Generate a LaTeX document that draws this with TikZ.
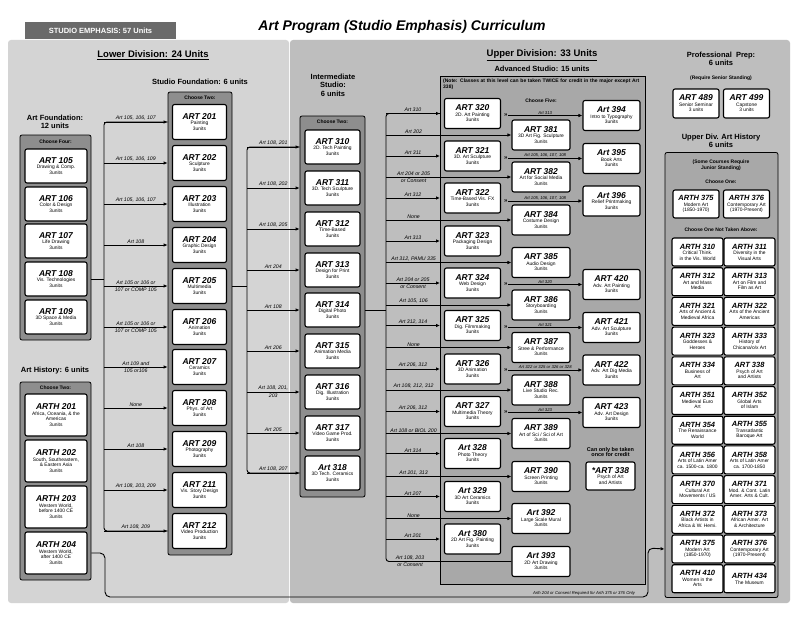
\documentclass[tikz,border=0pt]{standalone}
\usepackage{fontspec}
\setmainfont{Liberation Sans}
\usepackage{tikz}
\usetikzlibrary{positioning,arrows.meta}
\definecolor{lowgray}{HTML}{D4D4D4}
\definecolor{upgray}{HTML}{BEBEBE}
\definecolor{advgray}{HTML}{A8A8A8}
\definecolor{grpgray}{HTML}{8E8E8E}
\definecolor{tabgray}{HTML}{6A6A6A}
\newcommand{\ct}[1]{{\fontsize{8.5}{9}\selectfont\bfseries\itshape #1}\\}
\newcommand{\hct}[1]{{\fontsize{7.5}{8}\selectfont\bfseries\itshape #1}\\}
\tikzset{
	course/.style={draw=black, line width=1.1pt, fill=white, rounded corners=2pt, align=center, inner sep=0.5pt, font=\fontsize{4.9}{5.5}\selectfont},
	group/.style={draw=black, line width=0.8pt, fill=grpgray, rounded corners=2pt},
	line/.style={line width=0.9pt},
	flow/.style={line width=0.9pt, -{Latex[length=4pt,width=3.5pt]}},
	lbl/.style={font=\fontsize{5.2}{5.6}\selectfont\itshape, inner sep=1pt},
	small/.style={font=\fontsize{4.2}{4.6}\selectfont\itshape, inner sep=0.8pt},
	head/.style={font=\fontsize{5}{5.5}\selectfont\bfseries, inner sep=0pt},
	sect/.style={font=\fontsize{7.5}{8.5}\selectfont\bfseries, align=center}
}
\begin{document}
\begin{tikzpicture}[x=1pt,y=-1pt]
	\useasboundingbox (0,0) rectangle (800,618);
	\fill[white] (0,0) rectangle (800,618);
	% panels
	\fill[lowgray, rounded corners=3pt] (8,40) rectangle (289,603);
	\fill[upgray, rounded corners=3pt] (290,40) rectangle (790,603);
	\fill[advgray, rounded corners=2pt] (440,76) rectangle (645,584);
	\draw[line width=0.6pt] (440,76) rectangle (645,584);
	\node[fill=tabgray, text=white, font=\fontsize{7.5}{8}\selectfont\bfseries, minimum width=151, minimum height=17, inner sep=0pt] (tab) at (100.5,31) {STUDIO EMPHASIS: 57 Units};
	\node[font=\fontsize{14}{15}\selectfont\bfseries\itshape] (title) at (402,27) {Art Program (Studio Emphasis) Curriculum};
	\node[font=\fontsize{9.5}{10}\selectfont\bfseries] (lowdiv) at (153,55) {\underline{Lower Division: 24 Units}};
	\node[font=\fontsize{9.5}{10}\selectfont\bfseries] (updiv) at (542,55) {\underline{Upper Division: 33 Units}};

	% Art Foundation
	\node[sect] (lfound) at (55,122) {Art Foundation:\\12 units};
	\node[group, minimum width=71, minimum height=205] (gFour) at (55.5,237.5) {};
	\node[head] at (55.5,142) {Choose Four:};
	\foreach \n/\t/\y in {105/{Drawing \& Comp.}/166, 106/{Color \& Design}/204, 107/{Life Drawing}/241, 108/{Vis. Technologies}/279, 109/{3D Space \& Media}/317}
		\node[course, minimum width=62, minimum height=34] (a\n) at (56,\y) {\ct{ART \n}\t\\3units};

	% Art History
	\node[sect] (lhist) at (55,371) {Art History: 6 units};
	\node[group, minimum width=71, minimum height=198] (gHist) at (55.5,481) {};
	\node[head] at (55.5,388) {Choose Two:};
	\foreach \n/\t/\y in {201/{Africa, Oceania, \& the\\Americas}/415, 202/{South, Southeastern,\\\& Eastern Asia}/461, 203/{Western World,\\before 1400 CE}/507, 204/{Western World,\\after 1400 CE}/553}
		\node[course, minimum width=62, minimum height=42] (h\n) at (56,\y) {\ct{ARTH \n}\t\\3units};

	% Studio Foundation
	\node[sect] (lsf) at (200,82) {Studio Foundation: 6 units};
	\node[group, minimum width=64, minimum height=463] (gSF) at (200,323.5) {};
	\node[head] at (200,98) {Choose Two:};
	\foreach \n/\t/\y in {201/Painting/122, 202/Sculpture/163, 203/Illustration/204, 204/{Graphic Design}/245, 205/Multimedia/286, 206/Animation/327, 207/Ceramics/367, 208/{Phys. of Art}/408, 209/Photography/449, 211/{Vis. Story Design}/490, 212/{Video Production}/531}
		\node[course, minimum width=54, minimum height=35] (a\n) at (199.5,\y) {\ct{ART \n}\t\\3units};

	\coordinate (tA) at (104,0);
	\draw[line] (a108.east -| gFour.east) -- (tA |- a108);
	\draw[line, rounded corners=3pt] (a201 -| gSF.west) -- (tA |- a201) -- (tA |- a212) -- (a212 -| gSF.west);
	\foreach \n/\a/\b in {201/{Art 105, 106, 107}/{}, 202/{Art 105, 106, 109}/{}, 203/{Art 105, 106, 107}/{}, 204/{Art 108}/{}, 205/{Art 105 or 106 or}/{107 or COMP 105}, 206/{Art 105 or 106 or}/{107 or COMP 105}, 207/{Art 109 and}/{105 or106}, 208/{None}/{}, 209/{Art 108}/{}, 211/{Art 108, 203, 209}/{}, 212/{Art 108, 209}/{}}
		\draw[flow] (tA |- a\n) -- node[lbl, above] {\a} node[lbl, below] {\b} (a\n -| gSF.west);

	% Intermediate Studio
	\node[sect] (lint) at (333,85) {Intermediate\\Studio:\\6 units};
	\node[group, minimum width=65, minimum height=381] (gInt) at (332.5,306.5) {};
	\node[head] at (332.5,122) {Choose Two:};
	\foreach \n/\t/\y in {310/{2D. Tech Painting}/147, 311/{3D. Tech Sculpture}/188, 312/{Time-Based}/229, 313/{Design for Print}/270, 314/{Digital Photo}/310, 315/{Animation Media}/351, 316/{Dig. Illustration}/392, 317/{Video Game Prod.}/433}
		\node[course, minimum width=55, minimum height=34] (a\n) at (332.5,\y) {\ct{ART \n}\t\\3units};
	\node[course, minimum width=55, minimum height=34] (a318) at (332.5,473) {\ct{Art 318}3D Tech. Ceramics\\3units};

	\coordinate (tB) at (247,0);
	\draw[line] (a205.east -| gSF.east) -- (tB |- a205);
	\draw[line, rounded corners=3pt] (a310 -| gInt.west) -- (tB |- a310) -- (tB |- a318) -- (a318 -| gInt.west);
	\foreach \n/\a/\b in {310/{Art 108, 201}/{}, 311/{Art 108, 202}/{}, 312/{Art 108, 205}/{}, 313/{Art 204}/{}, 314/{Art 108}/{}, 315/{Art 206}/{}, 316/{Art 108, 201,}/{203}, 317/{Art 205}/{}, 318/{Art 108, 207}/{}}
		\draw[flow] (tB |- a\n) -- node[lbl, above] {\a} node[lbl, below] {\b} (a\n -| gInt.west);

	% Advanced Studio
	\node[sect] (ladv) at (542,69) {Advanced Studio: 15 units};
	\node[font=\fontsize{5}{6}\selectfont\bfseries, align=left, text width=200, inner sep=0pt, anchor=north west] (note) at (443,79) {(Note: Classes at this level can be taken TWICE for credit in the major except Art 338)};
	\node[head] at (541,101) {Choose Five:};
	\foreach \n/\t/\y in {320/{2D. Art Painting}/113.5, 321/{3D. Art Sculpture}/156, 322/{Time-Based Vis. FX}/198, 323/{Packaging Design}/241, 324/{Web Design}/283, 325/{Dig. Filmmaking}/325.5, 326/{3D Animation}/369, 327/{Multimedia Theory}/411.5}
		\node[course, minimum width=56, minimum height=30] (a\n) at (472.5,\y) {\ct{ART \n}\t\\3units};
	\foreach \n/\t/\y in {328/{Photo Theory}/453.5, 329/{3D Art Ceramics}/496.5, 380/{2D Art Fig. Painting}/539}
		\node[course, minimum width=56, minimum height=30] (a\n) at (472.5,\y) {\ct{Art \n}\t\\3units};
	\foreach \n/\t/\y in {381/{3D Art Fig. Sculpture}/135, 382/{Art for Social Media}/177, 384/{Costume Design}/220, 385/{Audio Design}/262.5, 386/{Storyboarding}/305, 387/{Stree \& Performance}/347.5, 388/{Live Studio Rec.}/390, 389/{Art of Sci / Sci of Art}/433.5, 390/{Screen Printing}/476.5}
		\node[course, minimum width=58, minimum height=30] (a\n) at (541,\y) {\ct{ART \n}\t\\3units};
	\foreach \n/\t/\y in {392/{Large Scale Mural}/518.5, 393/{2D Art Drawing}/561.5}
		\node[course, minimum width=58, minimum height=30] (a\n) at (541,\y) {\ct{Art \n}\t\\3units};
	\foreach \n/\t/\y in {394/{Intro to Typography}/115.5, 395/{Book Arts}/158.5, 396/{Relief Printmaking}/201}
		\node[course, minimum width=57, minimum height=30] (a\n) at (611.5,\y) {\ct{Art \n}\t\\3units};
	\foreach \n/\t/\y in {420/{Adv. Art Painting}/284.5, 421/{Adv. Art Sculpture}/327.5, 422/{Adv. Art Dig Media}/370, 423/{Adv. Art Design}/412.5}
		\node[course, minimum width=57, minimum height=30] (a\n) at (611.5,\y) {\ct{ART \n}\t\\3units};
	\node[font=\fontsize{5.5}{5.8}\selectfont\bfseries, align=center] (once) at (610.5,452) {Can only be taken\\once for credit};
	\node[course, minimum width=49, minimum height=28] (a338) at (610.5,476) {\ct{*ART 338}Psych of Art\\and Artists};

	\coordinate (tC) at (386,0);
	\coordinate (pL) at (440,0);
	\draw[line] (a314.east -| gInt.east) -- (tC |- a314);
	\draw[line, rounded corners=3pt] (a320 -| pL) -- (tC |- a320) -- (tC |- a393) -- (a393.west);
	\foreach \n/\a/\b in {320/{Art 310}/{}, 321/{Art 311}/{}, 322/{Art 312}/{}, 323/{Art 313}/{}, 324/{Art 204 or 205}/{or Consent}, 325/{Art 312, 314}/{}, 326/{Art 206, 312}/{}, 327/{Art 206, 312}/{}, 328/{Art 314}/{}, 329/{Art 207}/{}, 380/{Art 201}/{}}
		\draw[flow] (tC |- a\n) -- node[lbl, above] {\a} node[lbl, below] {\b} (a\n -| pL);
	\foreach \n/\a/\b in {381/{Art 202}/{}, 382/{Art 204 or 205}/{or Consent}, 384/{None}/{}, 385/{Art 312, PAMU 335}/{}, 386/{Art 105, 106}/{}, 387/{None}/{}, 388/{Art 108, 212, 312}/{}, 389/{Art 108 or BIOL 200}/{}, 390/{Art 201, 313}/{}, 392/{None}/{}}
		\draw[flow] (tC |- a\n) -- node[lbl, above, pos=0.22] {\a} node[lbl, below, pos=0.22] {\b} (a\n.west);
	\node[lbl, above] at (410,561.5) {Art 108, 203};
	\node[lbl, below] at (410,561.5) {or Consent};

	\coordinate (tD) at (508,0);
	\foreach \n/\a in {394/{Art 313}, 395/{Art 105, 106, 107, 108}, 396/{Art 105, 106, 107, 108}, 420/{Art 320}, 421/{Art 321}, 422/{Art 322 or 325 or 326 or 328}, 423/{Art 323}}
		\draw[flow] (tD |- a\n) node[font=\fontsize{6}{6}\selectfont\bfseries, left, inner sep=0pt] {»} -- node[small, above] {\a} (a\n.west);

	\node[small] (reqnote) at (584,593) {Arth 204 or Consent Required for Arth 375 or 376 Only};

	% Professional Prep
	\node[sect] (lprof) at (721,59) {Professional\ \ Prep:\\6 units};
	\node[font=\fontsize{5}{6}\selectfont\bfseries] (senior) at (721,78) {(Require Senior Standing)};
	\node[course, minimum width=46, minimum height=29] (a489) at (696,103.5) {\ct{ART 489}Senior Seminar\\3 units};
	\node[course, minimum width=46, minimum height=29] (a499) at (746.5,103.5) {\ct{ART 499}Capstone\\3 units};

	% Upper Div. Art History
	\node[sect] (luh) at (721,141) {Upper Div. Art History\\6 units};
	\node[group, fill=advgray, minimum width=113, minimum height=445] (gUH) at (721.5,375) {};
	\node[font=\fontsize{5}{6}\selectfont\bfseries, align=center] (junior) at (721,165) {(Some Courses Require\\Junior Standing)};
	\node[head] at (721,182) {Choose One:};
	\node[course, minimum width=46, minimum height=28] (c375) at (696,204) {\hct{ARTH 375}Modern Art\\(1850-1970)};
	\node[course, minimum width=46, minimum height=28] (c376) at (746.5,204) {\hct{ARTH 376}Contemporary Art\\(1970-Present)};
	\node[head] at (721,230) {Choose One Not Taken Above:};
	\foreach \l/\lt/\r/\rt [count=\i from 0] in {
		ARTH 310/{Critical Think.\\in the Vis. World}/ARTH 311/{Diversity in the\\Visual Arts},
		ARTH 312/{Art and Mass\\Media}/ARTH 313/{Art on Film and\\Film as Art},
		ARTH 321/{Arts of Ancient \&\\Medieval Africa}/ARTH 322/{Arts of the Ancient\\Americas},
		ARTH 323/{Goddesses \&\\Heroes}/ARTH 333/{History of\\Chicana/o/x Art},
		ARTH 334/{Business of\\Art}/ART 338/{Psych of Art\\and Artists},
		ARTH 351/{Medieval Euro\\Art}/ARTH 352/{Global Arts\\of Islam},
		ARTH 354/{The Renaissance\\World}/ARTH 355/{Transatlantic\\Baroque Art},
		ARTH 356/{Arts of Latin Amer\\ca. 1500-ca. 1800}/ARTH 358/{Arts of Latin Amer\\ca. 1700-1850},
		ARTH 370/{Cultural Art\\Movements / US}/ARTH 371/{Mod. \& Cont. Latin\\Amer. Arts \& Cult.},
		ARTH 372/{Black Artists in\\Africa \& W. Hemi.}/ARTH 373/{African Amer. Art\\\& Architecture},
		ARTH 375/{Modern Art\\(1850-1970)}/ARTH 376/{Contemporary Art\\(1970-Present)},
		ARTH 410/{Women in the\\Arts}/ARTH 434/{The Museum}} {
		\node[course, minimum width=51, minimum height=28] (ul\i) at (697.5,252+29.7*\i) {\hct{\l}\lt};
		\node[course, minimum width=51, minimum height=28] (ur\i) at (749.5,252+29.7*\i) {\hct{\r}\rt};
	}

	% long connector from ARTH 204
	\draw[flow, rounded corners=5pt] (h204.east -| gHist.east) -- (105,553) -- (105,597) -- (648,597) -- (648,548) -- (ul10.west -| gUH.west);
\end{tikzpicture}
\end{document}
